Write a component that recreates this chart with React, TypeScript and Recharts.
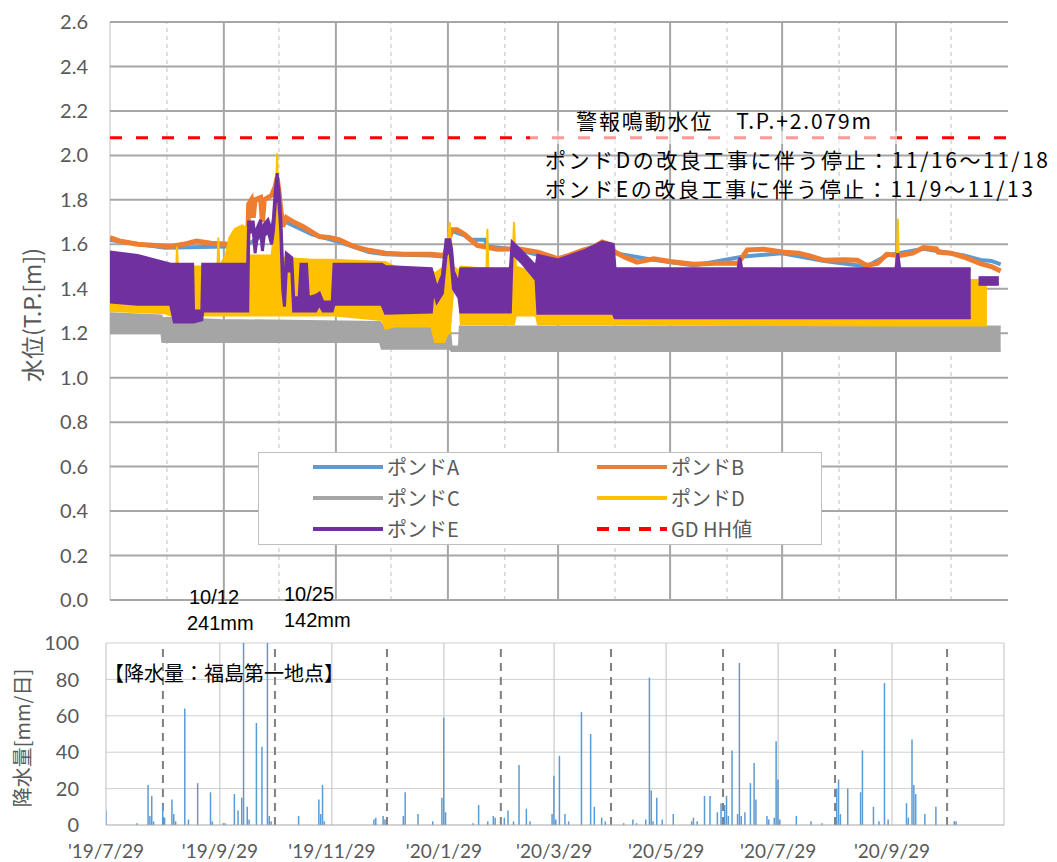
import React from "react";
import {
  ComposedChart,
  Line,
  Area,
  Bar,
  XAxis,
  YAxis,
  ReferenceLine,
  Legend,
  Label,
} from "recharts";

// x values are days counted from 2019-07-29
const monthDays = [0, 31, 62, 92, 123, 153, 184, 215, 244, 275, 305, 336, 366, 397, 428, 458, 489];
const labelDays = [0, 62, 123, 184, 244, 305, 366, 428];
const dateLabels = ["'19/7/29", "'19/9/29", "'19/11/29", "'20/1/29", "'20/3/29", "'20/5/29", "'20/7/29", "'20/9/29"];
const levelTicks = [0, 0.2, 0.4, 0.6, 0.8, 1.0, 1.2, 1.4, 1.6, 1.8, 2.0, 2.2, 2.4, 2.6];
const rainTicks = [0, 20, 40, 60, 80, 100];
const alarmLevel = 2.079;

// [day, level]
const pondA = [
  [0, 1.62], [30, 1.585], [64, 1.59], [75, 1.6], [96, 1.7], [110, 1.645], [125, 1.61], [141, 1.565],
  [150, 1.555], [175, 1.55], [182, 1.545], [186, 1.66], [193, 1.64], [196, 1.62], [204, 1.62], [206, 1.59],
  [222, 1.575], [244, 1.53], [268, 1.605], [275, 1.56], [296, 1.53], [318, 1.505], [345, 1.545], [366, 1.56],
  [389, 1.525], [412, 1.5], [423, 1.55], [443, 1.58], [465, 1.55], [474, 1.53], [480, 1.525], [485, 1.51],
];
const pondB = [
  [0, 1.63], [5, 1.615], [15, 1.6], [25, 1.595], [33, 1.59], [40, 1.6], [47, 1.615], [55, 1.605], [64, 1.6],
  [70, 1.605], [75, 1.61], [75.5, 1.78], [77, 1.8], [78, 1.72], [79, 1.8], [82, 1.81], [83, 1.7], [84, 1.8],
  [88, 1.82], [90, 1.86], [91, 1.9], [92, 1.84], [93, 1.76], [94, 1.68], [96, 1.72], [100, 1.7], [105, 1.68],
  [110, 1.655], [114, 1.635], [120, 1.63], [125, 1.62], [130, 1.6], [135, 1.585], [141, 1.573], [150, 1.56],
  [160, 1.555], [175, 1.555], [182, 1.55], [184, 1.6], [186, 1.665], [189, 1.665], [193, 1.645], [200, 1.595],
  [211, 1.578], [222, 1.58], [233, 1.565], [244, 1.535], [250, 1.55], [258, 1.575], [263, 1.585], [268, 1.61],
  [272, 1.6], [275, 1.565], [281, 1.54], [287, 1.52], [296, 1.535], [305, 1.523], [318, 1.51], [330, 1.515],
  [342, 1.515], [345, 1.55], [347, 1.575], [356, 1.578], [366, 1.565], [375, 1.56], [380, 1.55], [389, 1.528],
  [400, 1.53], [407, 1.528], [412, 1.505], [418, 1.515], [423, 1.555], [430, 1.55], [437, 1.56], [443, 1.585],
  [450, 1.58], [451, 1.565], [458, 1.56], [465, 1.543], [474, 1.513], [480, 1.5], [485, 1.48],
];

// [day, low, high] envelopes of the fast pump cycling
const pondC = [
  [0, 1.2, 1.29], [28, 1.2, 1.28], [28.5, 1.16, 1.27], [60, 1.16, 1.26], [147, 1.16, 1.25], [148, 1.13, 1.24],
  [185, 1.13, 1.23], [186, 1.12, 1.14], [190, 1.12, 1.14], [190.5, 1.12, 1.23], [485, 1.12, 1.23],
];
const pondD = [
  [0, 1.3, 1.46], [30, 1.29, 1.46], [33, 1.28, 1.48], [36, 1.28, 1.48], [36.5, 1.28, 1.59], [37, 1.28, 1.5],
  [44, 1.26, 1.5], [50, 1.28, 1.5], [58.5, 1.28, 1.5], [59, 1.28, 1.63], [59.5, 1.28, 1.5], [63, 1.28, 1.55],
  [65, 1.28, 1.63], [68, 1.28, 1.67], [72, 1.28, 1.685], [75, 1.28, 1.67], [75.5, 1.28, 1.55], [88, 1.28, 1.55],
  [90, 1.28, 1.7], [91, 1.28, 2.01], [92, 1.28, 1.7], [94, 1.28, 1.54], [110, 1.28, 1.53], [122, 1.28, 1.53],
  [148, 1.26, 1.52], [150, 1.22, 1.52], [155, 1.23, 1.5], [175, 1.23, 1.48], [177, 1.16, 1.47], [182, 1.16, 1.5],
  [184, 1.2, 1.62], [185, 1.2, 1.7], [186, 1.3, 1.58], [187, 1.4, 1.5], [190, 1.4, 1.48], [191, 1.24, 1.5],
  [205, 1.24, 1.49], [205.5, 1.24, 1.67], [206, 1.24, 1.49], [219, 1.24, 1.49], [220, 1.24, 1.7], [221, 1.28, 1.5],
  [232, 1.28, 1.47], [233, 1.24, 1.4], [275, 1.24, 1.3], [428, 1.235, 1.3], [429, 1.235, 1.715], [430, 1.235, 1.3],
  [468, 1.235, 1.3], [469, 1.235, 1.44], [477.5, 1.235, 1.44],
];
const pondE = [
  [0, 1.34, 1.565], [15, 1.33, 1.55], [33, 1.33, 1.51], [35, 1.25, 1.51], [45, 1.25, 1.51], [45.5, 1.25, 1.3],
  [50, 1.26, 1.3], [50.5, 1.3, 1.51], [75, 1.3, 1.51], [75.5, 1.65, 1.7], [78, 1.66, 1.7], [79, 1.56, 1.62],
  [80, 1.62, 1.67], [82, 1.66, 1.71], [83, 1.57, 1.62], [84, 1.64, 1.69], [86, 1.66, 1.71], [88, 1.6, 1.66],
  [89, 1.66, 1.72], [90, 1.78, 1.84], [91, 1.86, 1.92], [92, 1.78, 1.84], [93, 1.66, 1.72], [94, 1.4, 1.5],
  [95, 1.32, 1.38], [96, 1.48, 1.56], [99, 1.48, 1.54], [100, 1.3, 1.36], [103, 1.3, 1.36], [104, 1.3, 1.51],
  [107, 1.3, 1.51], [108, 1.3, 1.36], [112, 1.3, 1.37], [114, 1.33, 1.38], [116, 1.3, 1.34], [121, 1.3, 1.34],
  [122, 1.33, 1.51], [148, 1.33, 1.51], [150, 1.29, 1.5], [175, 1.295, 1.49], [176, 1.4, 1.46], [178, 1.34, 1.4],
  [181, 1.38, 1.46], [183, 1.55, 1.62], [185, 1.58, 1.62], [186, 1.5, 1.58], [187, 1.4, 1.48], [190, 1.36, 1.42],
  [191, 1.295, 1.49], [218, 1.295, 1.49], [219, 1.56, 1.61], [224, 1.52, 1.57], [232, 1.44, 1.5], [233, 1.29, 1.55],
  [244, 1.29, 1.53], [258, 1.29, 1.57], [268, 1.29, 1.61], [274, 1.29, 1.6], [275, 1.27, 1.49], [342, 1.27, 1.49],
  [343, 1.27, 1.54], [344, 1.27, 1.49], [428, 1.27, 1.49], [429, 1.27, 1.56], [430, 1.27, 1.49], [468.7, 1.27, 1.49],
];
const pondETail = [[473, 1.42, 1.45], [484, 1.42, 1.45]];

// daily rainfall (Fukushima Daiichi), day index and mm
const rainDays = [
  0, 17, 23, 24, 25, 26, 31, 32, 36, 37, 38, 43, 45, 50, 57, 58, 64, 65, 70, 72, 74, 75, 77, 78, 82, 85, 88, 89, 90,
  105, 116, 117, 118, 119, 146, 147, 151, 152, 162, 163, 170, 178, 183, 184, 185, 200, 203, 208, 211, 212, 217,
  219, 222, 225, 229, 231, 243, 244, 245, 247, 250, 252, 259, 264, 266, 270, 272, 282, 287, 289, 294, 296, 297,
  298, 300, 303, 309, 319, 320, 322, 326, 329, 333, 335, 337, 338, 339, 341, 344, 345, 346, 348, 351, 353, 354,
  360, 361, 364, 365, 366, 367, 376, 384, 390, 398, 399, 400, 404, 411, 412, 418, 421, 424, 426, 436, 437, 439,
  440, 441, 446, 452, 462, 463,
];
const rainMm = [
  8, 1, 22, 5, 16, 2, 11, 4, 14, 6, 2, 64, 3, 23, 18, 2, 1, 1, 17, 8, 15, 241, 10, 3, 56, 43, 142, 5, 2,
  5, 14, 6, 22, 2, 3, 4, 5, 3, 5, 18, 6, 2, 15, 59, 7, 1, 11, 2, 5, 4, 4,
  8, 2, 33, 9, 2, 6, 27, 3, 38, 6, 2, 62, 50, 10, 4, 2, 1, 3, 1, 3, 81, 19,
  2, 15, 3, 6, 2, 4, 2, 16, 16, 7, 12, 11, 16, 5, 41, 6, 89, 5, 7, 23, 34, 14,
  5, 3, 4, 46, 25, 3, 5, 2, 1, 20, 25, 6, 20, 18, 41, 10, 2, 78, 3, 12, 4, 47,
  22, 17, 6, 10, 2, 2,
];

const legendItems = [
  { name: "ポンドA", color: "#5B9BD5" },
  { name: "ポンドB", color: "#ED7D31" },
  { name: "ポンドC", color: "#A5A5A5" },
  { name: "ポンドD", color: "#FFC000" },
  { name: "ポンドE", color: "#7030A0" },
  { name: "GD HH値", color: "#FF0000", dashed: true },
];

const jp = '"Noto Sans CJK JP", "Noto Sans", sans-serif';
const num = 'Lato, "Noto Sans", sans-serif';
const arial = '"Liberation Sans", Arial, sans-serif';
const gray = "#595959";

const toLine = (pts: number[][]) => pts.map(([d, v]) => ({ d, v }));
const toBand = (pts: number[][]) => pts.map(([d, lo, hi]) => ({ d, r: [lo, hi] }));
const rainData = rainDays.map((d, i) => ({ d, mm: rainMm[i] }));

const AxisTitle = (props: any) => {
  const { viewBox, text, cx, size, shift } = props;
  const cy = viewBox.y + viewBox.height / 2 + shift;
  return (
    <text
      x={cx}
      y={cy}
      transform={`rotate(-90, ${cx}, ${cy})`}
      textAnchor="middle"
      dominantBaseline="central"
      fill={gray}
      fontSize={size}
      fontFamily={jp}
    >
      {text}
    </text>
  );
};

const LegendBox = () => (
  <div
    style={{
      position: "relative",
      width: 564,
      height: 93,
      background: "#fff",
      border: "1px solid #BFBFBF",
      boxSizing: "border-box",
      fontFamily: jp,
      fontSize: 20,
      color: gray,
    }}
  >
    {legendItems.map((item, i) => {
      const col = i % 2;
      const row = Math.floor(i / 2);
      return (
        <div
          key={item.name}
          style={{
            position: "absolute",
            left: col ? 338 : 54,
            top: row * 31,
            height: 28,
            display: "flex",
            alignItems: "center",
          }}
        >
          <svg width={70} height={8}>
            <line
              x1={0}
              x2={70}
              y1={4}
              y2={4}
              stroke={item.color}
              strokeWidth={4}
              strokeDasharray={item.dashed ? "12 9" : undefined}
            />
          </svg>
          <span style={{ marginLeft: 4, lineHeight: "28px" }}>{item.name}</span>
        </div>
      );
    })}
  </div>
);

const LevelChart = () => (
  <ComposedChart width={1057} height={620} margin={{ top: 22, right: 49, bottom: 20, left: 20 }}>
    <XAxis type="number" dataKey="d" domain={[0, 489]} hide allowDataOverflow />
    <YAxis
      type="number"
      domain={[0, 2.6]}
      ticks={levelTicks}
      interval={0}
      width={90}
      axisLine={false}
      tickLine={false}
      tickMargin={16}
      tick={{ fill: gray, fontSize: 20, fontFamily: num }}
      tickFormatter={(v: number) => v.toFixed(1)}
    >
      <Label content={(p: any) => <AxisTitle {...p} text="水位(T.P.[m])" cx={31} size={23} shift={4} />} />
    </YAxis>

    {/* grid */}
    <ReferenceLine x={0} stroke="#BFBFBF" strokeWidth={1} zIndex={-100} />
    {monthDays
      .filter((d) => d > 0 && d < 489 && !labelDays.includes(d))
      .map((d) => (
        <ReferenceLine key={`dm${d}`} x={d} stroke="#BFBFBF" strokeWidth={1} strokeDasharray="4 4" zIndex={-100} />
      ))}
    {labelDays.slice(1).map((d) => (
      <ReferenceLine key={`sm${d}`} x={d} stroke="#A6A6A6" strokeWidth={2} zIndex={-100} />
    ))}
    {levelTicks.map((y) => (
      <ReferenceLine key={`h${y}`} y={y} stroke="#A6A6A6" strokeWidth={2} zIndex={-100} />
    ))}

    <Line data={toLine(pondA)} dataKey="v" name="ポンドA" stroke="#5B9BD5" strokeWidth={4} dot={false} type="linear" isAnimationActive={false} zIndex={101} />
    <Line data={toLine(pondB)} dataKey="v" name="ポンドB" stroke="#ED7D31" strokeWidth={5} dot={false} type="linear" isAnimationActive={false} zIndex={102} />
    <Area data={toBand(pondC)} dataKey="r" name="ポンドC" stroke="#A5A5A5" strokeWidth={2} fill="#A5A5A5" fillOpacity={1} type="linear" isAnimationActive={false} zIndex={103} />
    <Area data={toBand(pondD)} dataKey="r" name="ポンドD" stroke="#FFC000" strokeWidth={2} fill="#FFC000" fillOpacity={1} type="linear" isAnimationActive={false} zIndex={104} />
    <Area data={toBand(pondE)} dataKey="r" name="ポンドE" stroke="#7030A0" strokeWidth={3} fill="#7030A0" fillOpacity={1} type="linear" isAnimationActive={false} zIndex={105} />
    <Area data={toBand(pondETail)} dataKey="r" legendType="none" stroke="#7030A0" strokeWidth={3} fill="#7030A0" fillOpacity={1} type="linear" isAnimationActive={false} zIndex={105} />

    <ReferenceLine y={alarmLevel} stroke="#FF0000" strokeWidth={3} strokeDasharray="12 14" zIndex={450} />

    <Legend
      layout="vertical"
      align="center"
      verticalAlign="middle"
      content={() => <LegendBox />}
      wrapperStyle={{ left: 258, top: 452, width: 564, height: 93 }}
    />
  </ComposedChart>
);

const RainChart = () => (
  <ComposedChart width={1057} height={242} data={rainData} margin={{ top: 23, right: 53, bottom: 7, left: 21 }}>
    <XAxis
      type="number"
      dataKey="d"
      domain={[0, 489]}
      ticks={labelDays}
      interval={0}
      height={30}
      allowDataOverflow
      tickLine={false}
      axisLine={{ stroke: "#A6A6A6" }}
      tickMargin={14}
      tick={{ fill: gray, fontSize: 19, fontFamily: num }}
      tickFormatter={(v: number) => dateLabels[labelDays.indexOf(v)]}
    />
    <YAxis
      type="number"
      domain={[0, 100]}
      ticks={rainTicks}
      interval={0}
      width={85}
      allowDataOverflow
      axisLine={false}
      tickLine={false}
      tickMargin={21}
      tick={{ fill: gray, fontSize: 20, fontFamily: num }}
    >
      <Label content={(p: any) => <AxisTitle {...p} text="降水量[mm/日]" cx={21} size={20} shift={4} />} />
    </YAxis>

    {rainTicks.slice(1).map((y) => (
      <ReferenceLine key={`rh${y}`} y={y} stroke="#D0D0D0" strokeWidth={1} zIndex={-100} />
    ))}
    <ReferenceLine x={0} stroke="#BFBFBF" strokeWidth={1} zIndex={-100} />
    {labelDays.slice(1).concat([489]).map((d) => (
      <ReferenceLine key={`rs${d}`} x={d} stroke="#BFBFBF" strokeWidth={1} zIndex={-100} />
    ))}
    {monthDays
      .filter((d) => d > 0 && d < 489 && !labelDays.includes(d))
      .map((d) => (
        <ReferenceLine key={`rd${d}`} x={d} stroke="#808080" strokeWidth={2} strokeDasharray="8 6" zIndex={-100} />
      ))}

    <Bar dataKey="mm" name="降水量" fill="#5B9BD5" barSize={1.5} isAnimationActive={false} />
  </ComposedChart>
);

const Notes = () => (
  <svg
    width={1057}
    height={862}
    style={{ position: "absolute", left: 0, top: 0, pointerEvents: "none" }}
  >
    {/* translucent text box that fades the alarm line under the caption */}
    <rect x={530} y={131} width={367} height={13} fill="#fff" fillOpacity={0.6} />
    <g fontFamily={jp} fontSize={21} fill="#000">
      <text x={576} y={120} dominantBaseline="central" textLength={295} lengthAdjust="spacing">
        警報鳴動水位　T.P.+2.079m
      </text>
      <text x={545} y={159} dominantBaseline="central" textLength={503} lengthAdjust="spacing">
        ポンドDの改良工事に伴う停止：11/16～11/18
      </text>
      <text x={545} y={188} dominantBaseline="central" textLength={488} lengthAdjust="spacing">
        ポンドEの改良工事に伴う停止：11/9～11/13
      </text>
      <text x={104} y={672} fontSize={20} dominantBaseline="central">【降水量：福島第一地点】</text>
    </g>
    <g fontFamily={arial} fontSize={20} fill="#000">
      <text x={189} y={604}>10/12</text>
      <text x={187} y={630}>241mm</text>
      <text x={284} y={601}>10/25</text>
      <text x={284} y={627}>142mm</text>
    </g>
  </svg>
);

export default function App() {
  return (
    <div style={{ position: "absolute", left: 0, top: 0, width: 1057, height: 862, background: "#fff" }}>
      <div style={{ position: "absolute", left: 0, top: 0 }}>
        <LevelChart />
      </div>
      <div style={{ position: "absolute", left: 0, top: 620 }}>
        <RainChart />
      </div>
      <Notes />
    </div>
  );
}
